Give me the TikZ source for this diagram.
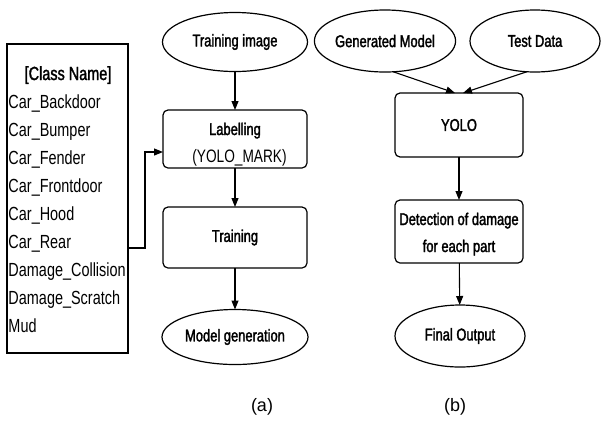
\documentclass[tikz,border=0pt]{standalone}
\usepackage{fontspec}
\setmainfont{Liberation Sans}[FakeStretch=0.76]
\newfontfamily\labfont{Liberation Sans}[FakeStretch=0.76,FakeBold=1.8]
\newfontfamily\hdfont{Liberation Sans}[FakeStretch=0.76,FakeBold=1.5]
\newfontfamily\capfont{Liberation Sans}
\usetikzlibrary{shapes.geometric,arrows.meta}
\begin{document}
\begin{tikzpicture}[x=1pt,y=-1pt,
  line width=1.2pt,
  every node/.style={inner sep=0pt, outer sep=0pt},
  arr/.style={-{Triangle[length=9pt,width=7pt]}, line width=1.1pt},
  oval/.style={draw, ellipse, font=\labfont\fontsize{17}{20}\selectfont},
  rbox/.style={draw, rounded corners=5pt, minimum width=144pt, font=\labfont\fontsize{17}{27}\selectfont, align=center},
  boxtxt/.style={anchor=base, font=\labfont\fontsize{17}{20}\selectfont},
  listtxt/.style={anchor=base west, font=\fontsize{19}{20}\selectfont},
  captxt/.style={font=\capfont\fontsize{18}{20}\selectfont}
]
\useasboundingbox (0,0) rectangle (601,421);
\fill[white] (0,0) rectangle (601,421);

% (a) class list
\node[draw, minimum width=121pt, minimum height=309pt, line width=1.5pt] (cls) at (67.5,198.5) {};
\node[anchor=base, font=\hdfont\fontsize{19}{20}\selectfont] (l0) at (68,80) {[Class Name]};
\node[listtxt] (l1) at (8.5,108) {Car\_Backdoor};
\node[listtxt] (l2) at (8.5,136) {Car\_Bumper};
\node[listtxt] (l3) at (8.5,164) {Car\_Fender};
\node[listtxt] (l4) at (8.5,192) {Car\_Frontdoor};
\node[listtxt] (l5) at (8.5,220) {Car\_Hood};
\node[listtxt] (l6) at (8.5,248) {Car\_Rear};
\node[listtxt] (l7) at (8.5,276) {Damage\_Collision};
\node[listtxt] (l8) at (8.5,304) {Damage\_Scratch};
\node[listtxt] (l9) at (8.5,332) {Mud};

\node[oval, minimum width=145pt, minimum height=59pt] (ti) at (235,42) {Training image};
\node[rbox, minimum height=58pt] (lab) at (235,139) {};
\node[boxtxt] (labt1) at (235,135) {Labelling};
\node[anchor=base, font=\fontsize{18}{20}\selectfont] (labt2) at (239.5,162) {(YOLO\_MARK)};
\node[rbox, minimum height=61pt] (tr) at (235,237.5) {Training};
\node[oval, minimum width=146pt, minimum height=55pt] (mg) at (235,337) {Model generation};

\coordinate (c1) at (128,248);
\coordinate (c2) at (163,152);
\draw[arr] (c1) -- (145,248) -- (145,152) -- (c2);
\draw[arr] (ti) -- (lab);
\draw[arr] (lab) -- (tr);
\draw[arr] (tr) -- (mg);

% (b)
\node[oval, minimum width=130pt, minimum height=62pt] (gm) at (385,41) {Generated Model};
\node[oval, minimum width=130pt, minimum height=62pt] (td) at (535,41) {Test Data};
\node[rbox, minimum width=128pt, minimum height=64pt] (yolo) at (459,125) {YOLO};
\node[rbox, minimum width=128pt, minimum height=63pt] (det) at (459,231.5) {};
\node[boxtxt] (dett1) at (459,225) {Detection of damage};
\node[boxtxt] (dett2) at (459,252) {for each part};
\node[oval, minimum width=130pt, minimum height=62pt] (fo) at (460,336) {Final Output};

\coordinate (y1) at (455,93);
\coordinate (y2) at (463,93);
\draw[arr] (gm.-75) -- (y1);
\draw[arr] (td.-105) -- (y2);
\draw[arr] (yolo) -- (det);
\draw[arr] (det) -- (fo);

\node[captxt] (ca) at (262,407) {(a)};
\node[captxt] (cb) at (455,407) {(b)};
\end{tikzpicture}
\end{document}
